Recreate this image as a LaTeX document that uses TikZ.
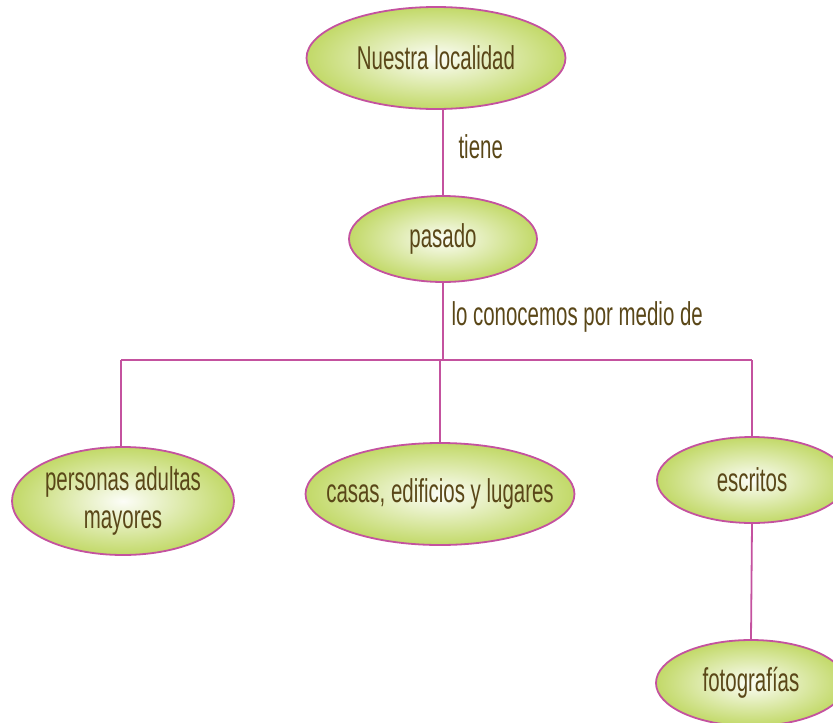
\documentclass[tikz,border=0pt]{standalone}
\usepackage{fontspec}
\setmainfont[FakeStretch=0.62]{Liberation Sans}
\usepackage{xcolor}
\usepackage{tikz}
\usetikzlibrary{shapes.geometric}
\definecolor{borde}{HTML}{C4529F}
\definecolor{verde}{HTML}{C2D968}
\definecolor{cafe}{HTML}{5A4718}
\tikzset{
  globo/.style={ellipse,draw=borde,line width=1.8pt,inner xsep=-30pt,inner ysep=-8pt,
    shading=radial,inner color=white!95!verde,outer color=verde,
    text=cafe,font=\fontsize{33}{38}\selectfont,align=center},
  enlace/.style={draw=borde,line width=1.8pt},
  rotulo/.style={text=cafe,font=\fontsize{33}{38}\selectfont,anchor=west}
}
\begin{document}
\begin{tikzpicture}[x=1pt,y=-1pt]
\useasboundingbox (0,0) rectangle (833,723);
\clip (0,0) rectangle (833,723);
\node[globo,minimum width=259,minimum height=102](loc)at(436,58){Nuestra localidad};
\node[globo,minimum width=188,minimum height=86](pas)at(443,239){pasado};
\node[globo,minimum width=222,minimum height=108](per)at(123,501){personas adultas\\mayores};
\node[globo,minimum width=269,minimum height=102](cas)at(440,494){casas, edificios y lugares};
\node[globo,minimum width=190,minimum height=86](esc)at(752,480){escritos};
\node[globo,minimum width=190,minimum height=86](fot)at(751,683){fotografías};
\coordinate(medio)at(443,360);
\coordinate(izq)at(121,360);
\coordinate(der)at(752,360);
% conectores
\draw[enlace](pas.north)--(pas.north|-loc.south);
\draw[enlace](pas.south)--(medio);
\draw[enlace](izq)--(der);
\draw[enlace](izq)--(izq|-per.north);
\draw[enlace](cas.north|-medio)--(cas.north);
\draw[enlace](der)--(esc.north);
\draw[enlace](esc.south)--(fot.north);
\node[rotulo](r1)at(455,147){tiene};
\node[rotulo](r2)at(448,317){lo conocemos por medio de};
\end{tikzpicture}
\end{document}
